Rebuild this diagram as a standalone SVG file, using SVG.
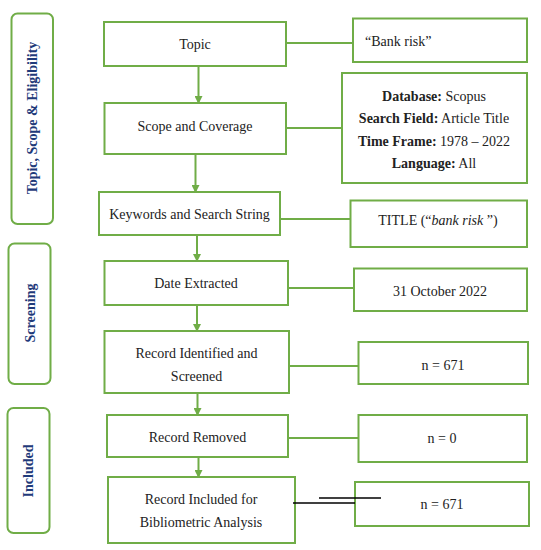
<svg xmlns="http://www.w3.org/2000/svg" width="541" height="550" viewBox="0 0 541 550">
<style>
.box{fill:#fff;stroke:#70ad47;stroke-width:2}
.side{fill:#fff;stroke:#70ad47;stroke-width:2}
.t{font-family:"Liberation Serif","Times New Roman",serif;font-size:14px;fill:#222;text-anchor:middle}
.tl{text-anchor:start}
.b{font-weight:bold}
.s{font-family:"Liberation Serif","Times New Roman",serif;font-size:14px;font-weight:bold;fill:#1f3a7a;text-anchor:middle}
.c{stroke:#70ad47;stroke-width:2;fill:none}
.k{stroke:#000;stroke-width:1.3;fill:none}
</style>
<defs>
<marker id="ah" markerWidth="8" markerHeight="8" refX="7" refY="4" orient="auto" markerUnits="userSpaceOnUse">
<path d="M0,0 L8,4 L0,8 Z" fill="#70ad47"/>
</marker>
</defs>
<rect width="541" height="550" fill="#fff"/>
<g id="side1"><rect class="side" x="11.5" y="13.5" width="41.5" height="210.5" rx="6"/><text class="s" transform="translate(37,118) rotate(-90)">Topic, Scope &amp; Eligibility</text></g>
<g id="side2"><rect class="side" x="8.5" y="243.5" width="42" height="140.5" rx="6"/><text class="s" transform="translate(35,313) rotate(-90)">Screening</text></g>
<g id="side3"><rect class="side" x="7.5" y="408" width="42" height="125" rx="6"/><text class="s" transform="translate(33,471) rotate(-90)">Included</text></g>
<g id="connectors">
<line class="c" x1="198.5" y1="66" x2="198.5" y2="103" marker-end="url(#ah)"/>
<line class="c" x1="195.5" y1="154" x2="195.5" y2="192" marker-end="url(#ah)"/>
<line class="c" x1="197" y1="235" x2="197" y2="261" marker-end="url(#ah)"/>
<line class="c" x1="197" y1="305" x2="197" y2="331" marker-end="url(#ah)"/>
<line class="c" x1="197.5" y1="393" x2="197.5" y2="415" marker-end="url(#ah)"/>
<line class="c" x1="198.5" y1="457" x2="198.5" y2="477" marker-end="url(#ah)"/>
<line class="c" x1="286" y1="43" x2="353" y2="43"/>
<line class="c" x1="286" y1="128" x2="342" y2="128"/>
<line class="c" x1="280" y1="219" x2="350" y2="219"/>
<line class="c" x1="288" y1="288" x2="354" y2="288"/>
<line class="c" x1="289" y1="366" x2="358" y2="366"/>
<line class="c" x1="288" y1="438" x2="358" y2="438"/>
</g>
<g id="topic"><rect class="box" x="104" y="22" width="182" height="44"/><text class="t" x="195" y="49">Topic</text></g>
<g id="scope"><rect class="box" x="104.5" y="103" width="181.5" height="51"/><text class="t" x="195" y="131">Scope and Coverage</text></g>
<g id="keywords"><rect class="box" x="99" y="192" width="181" height="43"/><text class="t" x="189.5" y="219">Keywords and Search String</text></g>
<g id="date"><rect class="box" x="104.5" y="261" width="183.5" height="44"/><text class="t" x="196" y="288">Date Extracted</text></g>
<g id="identified"><rect class="box" x="104.5" y="331" width="184.5" height="62"/><text class="t" x="196.5" y="358">Record Identified and</text><text class="t" x="196.5" y="381">Screened</text></g>
<g id="removed"><rect class="box" x="107" y="415" width="181" height="42"/><text class="t" x="197.5" y="442">Record Removed</text></g>
<g id="included"><rect class="box" x="108" y="477" width="187" height="66"/><text class="t" x="201" y="504">Record Included for</text><text class="t" x="201" y="527">Bibliometric Analysis</text></g>
<g id="bankrisk"><rect class="box" x="353" y="18.5" width="174" height="43.5"/><text class="t tl" x="365" y="46">“Bank risk”</text></g>
<g id="database"><rect class="box" x="342" y="73" width="185" height="110"/>
<text class="t" x="434" y="101"><tspan class="b">Database:</tspan> Scopus</text>
<text class="t" x="434" y="123"><tspan class="b">Search Field:</tspan> Article Title</text>
<text class="t" x="434" y="146"><tspan class="b">Time Frame:</tspan> 1978 – 2022</text>
<text class="t" x="434" y="168"><tspan class="b">Language:</tspan> All</text></g>
<g id="title"><rect class="box" x="350.5" y="200.5" width="176.5" height="46.5"/><text class="t" x="438" y="225">TITLE (“<tspan font-style="italic">bank risk</tspan> ”)</text></g>
<g id="datevalue"><rect class="box" x="354" y="268.5" width="173" height="42.5"/><text class="t" x="440" y="296">31 October 2022</text></g>
<g id="n671a"><rect class="box" x="358.5" y="342" width="169.5" height="42"/><text class="t" x="443" y="370">n = 671</text></g>
<g id="n0"><rect class="box" x="358.5" y="415" width="168.5" height="47"/><text class="t" x="442" y="443">n = 0</text></g>
<g id="n671b"><rect class="box" x="355" y="482" width="174" height="44"/><text class="t" x="442" y="509">n = 671</text></g>
<g id="black-lines">
<line class="k" x1="293" y1="503" x2="355" y2="503"/>
<line class="k" x1="319" y1="498" x2="381" y2="498"/>
</g>
</svg>
